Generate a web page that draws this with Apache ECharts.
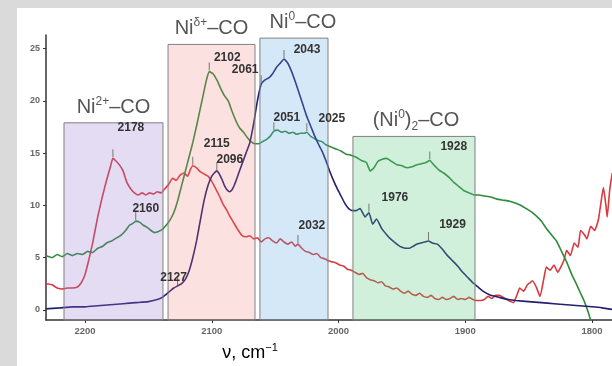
<!DOCTYPE html>
<html>
<head>
<meta charset="utf-8">
<script src="https://cdn.jsdelivr.net/npm/echarts@6/dist/echarts.min.js"></script>
<style>
  html, body { margin: 0; padding: 0; background: #dadada; }
  #panel { position: absolute; left: 17px; top: 8px; width: 595px; height: 358px; background: #fff; }
  #chart { position: absolute; left: 0; top: 0; width: 612px; height: 366px; }
</style>
</head>
<body>
<div id="panel"></div>
<div id="chart"></div>
<script>
// IR spectra of CO adsorbed on Ni: [wavenumber cm-1, absorbance]
const redSpectrum = [
  [2231,2.5],[2226,2.4],[2222,2.1],[2218,2.0],[2214,2.1],[2210,2.1],[2206,2.2],[2203,2.6],[2200,3.4],
  [2197,4.8],[2194,6.4],[2190,8.9],[2186,11.0],[2183,12.4],[2180,13.7],[2178,14.5],[2176,14.3],[2173,13.9],
  [2170,13.3],[2167,12.2],[2164,11.6],[2161,11.2],[2158,11.0],[2155,11.2],[2152,11.0],[2149,11.2],[2146,11.1],
  [2143,11.3],[2140,11.2],[2137,11.6],[2134,12.0],[2131,12.6],[2128,12.4],[2125,12.9],[2122,13.1],[2119,12.8],
  [2117,13.4],[2115,13.8],[2112,13.6],[2109,13.2],[2106,13.0],[2103,12.8],[2100,12.3],[2097,11.6],[2094,10.9],
  [2091,10.1],[2088,9.5],[2085,8.8],[2082,8.2],[2079,7.6],[2076,7.1],[2073,7.0],[2070,7.1],[2067,6.8],
  [2064,6.9],[2061,6.5],[2058,6.8],[2055,6.9],[2052,6.6],[2049,6.4],[2046,6.8],[2043,6.5],[2040,6.3],
  [2037,6.5],[2034,6.1],[2032,6.3],[2029,5.9],[2026,5.6],[2023,5.5],[2020,5.3],[2017,5.4],[2014,5.0],
  [2011,4.9],[2008,4.7],[2005,4.6],[2002,4.5],[1999,4.3],[1996,4.2],[1993,3.9],[1990,3.8],[1987,3.6],
  [1984,3.4],[1981,3.5],[1978,3.1],[1975,2.9],[1972,2.8],[1969,2.6],[1966,2.7],[1963,2.3],[1960,2.2],
  [1957,2.0],[1954,2.1],[1951,1.8],[1948,1.6],[1945,1.8],[1942,1.5],[1939,1.4],[1936,1.6],[1933,1.3],
  [1930,1.2],[1927,1.4],[1924,1.1],[1921,1.0],[1918,1.2],[1915,1.0],[1912,1.1],[1909,1.3],[1906,1.0],
  [1903,1.1],[1900,1.0],[1897,1.2],[1894,1.0],[1891,0.9],[1888,0.9],[1885,1.0],[1882,1.3],[1879,1.1],
  [1876,1.4],[1873,1.4],[1870,1.2],[1867,1.0],[1864,0.8],[1862,0.7],[1859,1.5],[1857,2.1],[1854,1.8],
  [1851,2.4],[1849,2.6],[1847,2.8],[1844,2.2],[1841,1.3],[1838,3.0],[1836,4.1],[1833,3.8],[1830,4.3],
  [1827,3.6],[1825,4.0],[1822,4.8],[1820,5.7],[1817,5.2],[1814,6.4],[1811,6.0],[1809,7.6],[1806,7.2],
  [1804,6.8],[1801,8.0],[1798,7.6],[1795,8.6],[1793,10.2],[1791,11.7],[1789,10.0],[1788,8.9],[1786,11.5],
  [1784,13.1]
];

const greenSpectrum = [
  [2231,5.2],[2226,5.0],[2222,5.3],[2218,5.1],[2214,5.4],[2210,5.2],[2206,5.4],[2202,5.3],[2198,5.6],
  [2194,5.5],[2190,5.9],[2186,6.1],[2183,6.4],[2179,6.6],[2175,6.9],[2172,7.1],[2168,7.6],[2165,8.1],
  [2162,8.3],[2160,8.5],[2157,8.4],[2154,8.1],[2151,7.9],[2148,7.6],[2145,7.4],[2142,7.5],[2139,7.7],
  [2136,8.1],[2133,8.6],[2130,9.3],[2127,10.4],[2124,11.8],[2121,13.2],[2118,14.6],[2115,16.0],[2112,17.6],
  [2109,19.3],[2106,21.0],[2104,22.1],[2102,22.8],[2099,22.6],[2096,22.0],[2093,21.2],[2090,20.5],[2087,20.0],
  [2084,19.0],[2081,18.1],[2078,17.4],[2075,17.0],[2072,16.5],[2069,16.1],[2066,15.9],[2063,15.9],[2060,16.1],
  [2057,16.3],[2054,16.6],[2051,17.1],[2048,17.2],[2045,17.0],[2042,17.1],[2039,16.9],[2036,17.0],[2033,16.8],
  [2030,16.9],[2027,16.9],[2025,17.0],[2022,16.6],[2019,16.4],[2016,16.2],[2013,16.1],[2010,15.8],[2006,15.6],
  [2002,15.4],[1998,15.2],[1994,14.9],[1990,14.8],[1986,14.6],[1982,14.3],[1978,14.1],[1975,13.3],[1972,13.6],
  [1969,14.2],[1966,14.4],[1962,14.5],[1958,14.2],[1954,13.9],[1950,13.8],[1946,13.6],[1942,13.7],[1938,13.9],
  [1934,14.0],[1931,14.1],[1928,14.3],[1925,13.9],[1921,13.4],[1917,13.1],[1913,12.7],[1909,12.2],[1905,11.8],
  [1901,11.4],[1897,11.2],[1893,11.0],[1889,11.0],[1885,10.9],[1880,10.8],[1875,10.6],[1870,10.5],[1865,10.4],
  [1860,10.2],[1856,10.0],[1852,9.7],[1848,9.4],[1844,9.0],[1840,8.5],[1836,7.8],[1832,7.2],[1828,6.6],
  [1824,5.6],[1820,4.6],[1816,3.4],[1812,2.4],[1809,1.6],[1806,0.8],[1803,-0.2],[1801,-1.0]
];

const blueSpectrum = [
  [2231,0.1],[2220,0.2],[2210,0.3],[2200,0.3],[2190,0.4],[2180,0.5],[2170,0.6],[2160,0.7],[2150,0.8],
  [2143,1.0],[2139,1.2],[2136,1.5],[2133,1.8],[2130,2.1],[2127,2.3],[2124,2.5],[2121,2.9],[2118,3.7],
  [2115,5.0],[2112,6.6],[2109,8.6],[2106,10.5],[2103,11.9],[2100,12.8],[2098,13.1],[2096,13.3],[2094,13.0],
  [2092,12.5],[2090,11.9],[2088,11.5],[2086,11.3],[2084,11.5],[2082,12.0],[2079,13.0],[2076,14.0],[2073,15.0],
  [2070,16.0],[2067,17.8],[2064,20.0],[2061,21.6],[2058,22.0],[2055,22.2],[2052,22.6],[2049,23.2],[2046,23.6],
  [2043,24.0],[2040,23.6],[2037,22.8],[2034,21.8],[2031,20.7],[2028,19.6],[2025,18.5],[2022,17.6],[2019,16.7],
  [2016,15.9],[2013,15.2],[2010,14.3],[2007,13.3],[2004,12.4],[2001,11.6],[1998,10.9],[1995,10.2],[1992,9.7],
  [1989,9.5],[1986,9.5],[1983,9.7],[1979,8.9],[1976,9.3],[1973,8.2],[1970,8.7],[1966,7.8],[1962,7.2],
  [1959,6.8],[1956,6.5],[1953,6.2],[1950,6.0],[1947,5.9],[1944,5.9],[1941,6.1],[1938,6.3],[1935,6.4],
  [1932,6.5],[1929,6.6],[1926,6.4],[1922,6.3],[1918,5.8],[1914,5.2],[1910,4.7],[1906,4.2],[1902,3.6],
  [1898,3.1],[1894,2.6],[1890,2.2],[1886,1.8],[1880,1.4],[1873,1.2],[1866,1.0],[1860,0.9],[1850,0.8],
  [1840,0.7],[1830,0.6],[1820,0.5],[1810,0.4],[1800,0.3],[1792,0.2],[1784,0.05]
];

// Band positions marked on each spectrum (cm-1)
const redPeaks = [2178, 2115, 2032];
const greenPeaks = [2160, 2102, 2051, 2025, 1928];
const bluePeaks = [2127, 2096, 2061, 2043, 1976, 1929];

// Assignment regions: [from, to] in cm-1 and box height in absorbance units
const regionNames = ['Ni2+', 'Nid+', 'Ni0', '(Ni0)2'];
const regionFrom = [2216.6, 2134.5, 2062.0, 1988.6];
const regionTo = [2138.5, 2065.9, 2008.3, 1892.3];
const regionTop = [17.9, 25.4, 26.0, 16.6];

const xTicks = [2200, 2100, 2000, 1900, 1800];
const yTicks = [0, 5, 10, 15, 20, 25];

const X_MIN = 1784.2, X_MAX = 2230.8, Y_MIN = -0.96, Y_MAX = 26.3;

// ---- presentation ----
const FONT = "'Liberation Sans', Arial, sans-serif";
const regionStyle = {
  'Ni2+':   { fill: 'rgba(150,120,210,0.26)', title: '{b|Ni}{sup|2+}{b|–CO}', offset: [0, 0] },
  'Nid+':   { fill: 'rgba(240,120,120,0.22)', title: '{b|Ni}{sup|δ+}{b|–CO}', offset: [0, 0] },
  'Ni0':    { fill: 'rgba(100,170,230,0.27)', title: '{b|Ni}{sup|0}{b|–CO}', offset: [9, 0] },
  '(Ni0)2': { fill: 'rgba(90,200,130,0.28)', title: '{b|(Ni}{sup|0}{b|)}{sub|2}{b|–CO}', offset: [2, 0] }
};
const titleRich = {
  b: { fontSize: 20, color: '#555', lineHeight: 24, fontFamily: FONT },
  sup: { fontSize: 12, color: '#555', lineHeight: 12, verticalAlign: 'top', fontFamily: FONT },
  sub: { fontSize: 12, color: '#555', lineHeight: 12, verticalAlign: 'bottom', fontFamily: FONT }
};
// text offset of each band label from its tick
const labelOffset = {
  2178: [18, -26], 2115: [24, -17], 2032: [14, -13],
  2160: [10, -7], 2102: [18, -9], 2051: [13, -8], 2025: [25, -9], 1928: [24, -9],
  2127: [-4, -3], 2096: [13, -6], 2061: [-16, -9], 2043: [23, -4], 1976: [26, -10], 1929: [24, -11]
};

function valueAt(spectrum, nu) {
  const p = spectrum.find(d => d[0] === nu);
  return p ? p[1] : null;
}

function peakMarks(spectrum, peaks) {
  return {
    z: 5,
    silent: true,
    symbol: 'rect',
    symbolSize: [1, 8],
    symbolOffset: [0, -5],
    itemStyle: { color: '#777' },
    label: {
      show: true, position: 'inside', formatter: '{c}',
      color: '#333', fontSize: 12, fontWeight: 'bold', fontFamily: FONT
    },
    data: peaks.map(nu => ({
      coord: [nu, valueAt(spectrum, nu)],
      value: nu,
      label: { offset: labelOffset[nu] }
    }))
  };
}

function spectrumSeries(name, spectrum, color, peaks) {
  return {
    name, type: 'line', data: spectrum, showSymbol: false, smooth: 0.15,
    lineStyle: { color, width: 1.6 }, z: 2, silent: true,
    markPoint: peakMarks(spectrum, peaks)
  };
}

const regionAreas = regionNames.map((n, i) => {
  const st = regionStyle[n];
  return [
    {
      xAxis: regionFrom[i], yAxis: regionTop[i],
      itemStyle: { color: st.fill, borderColor: '#808080', borderWidth: 1 },
      label: {
        show: true, position: 'top', distance: 3, offset: st.offset,
        formatter: st.title, rich: titleRich
      }
    },
    { xAxis: regionTo[i], yAxis: Y_MIN }
  ];
});

const plain = v => String(v);

const chart = echarts.init(document.getElementById('chart'), null, { renderer: 'canvas' });
chart.setOption({
  animation: false,
  backgroundColor: 'transparent',
  textStyle: { fontFamily: FONT },
  grid: { left: 46, right: 0, top: 35, bottom: 46 },
  xAxis: {
    type: 'value', inverse: true, min: X_MIN, max: X_MAX,
    axisLine: { show: true, onZero: false, lineStyle: { color: '#333', width: 1.5 } },
    axisTick: { show: true, customValues: xTicks, length: 3, lineStyle: { color: '#333' } },
    axisLabel: { customValues: xTicks, formatter: plain, fontSize: 9.5, fontWeight: 'bold', color: '#666', margin: 6 },
    splitLine: { show: false }
  },
  yAxis: {
    type: 'value', min: Y_MIN, max: Y_MAX,
    axisLine: { show: true, onZero: false, lineStyle: { color: '#333', width: 1.5 } },
    axisTick: { show: true, customValues: yTicks, length: 3, lineStyle: { color: '#333' } },
    axisLabel: { customValues: yTicks, formatter: plain, fontSize: 9, fontWeight: 'bold', color: '#666', margin: 6 },
    splitLine: { show: false }
  },
  series: [
    spectrumSeries('red', redSpectrum, '#d93a3f', redPeaks),
    spectrumSeries('green', greenSpectrum, '#2f8a3a', greenPeaks),
    spectrumSeries('blue', blueSpectrum, '#22206e', bluePeaks),
    {
      name: 'regions', type: 'line', data: [], silent: true,
      markArea: { z: 3, silent: true, data: regionAreas }
    }
  ],
  graphic: [{
    type: 'text', x: 250, y: 353, z: 10,
    style: {
      text: '{m|ν, cm}{s|−1}', align: 'center', verticalAlign: 'middle',
      rich: {
        m: { fontSize: 18, color: '#555', lineHeight: 22, fontFamily: FONT },
        s: { fontSize: 11, color: '#555', lineHeight: 11, verticalAlign: 'top', fontFamily: FONT }
      }
    }
  }]
});
</script>
</body>
</html>
